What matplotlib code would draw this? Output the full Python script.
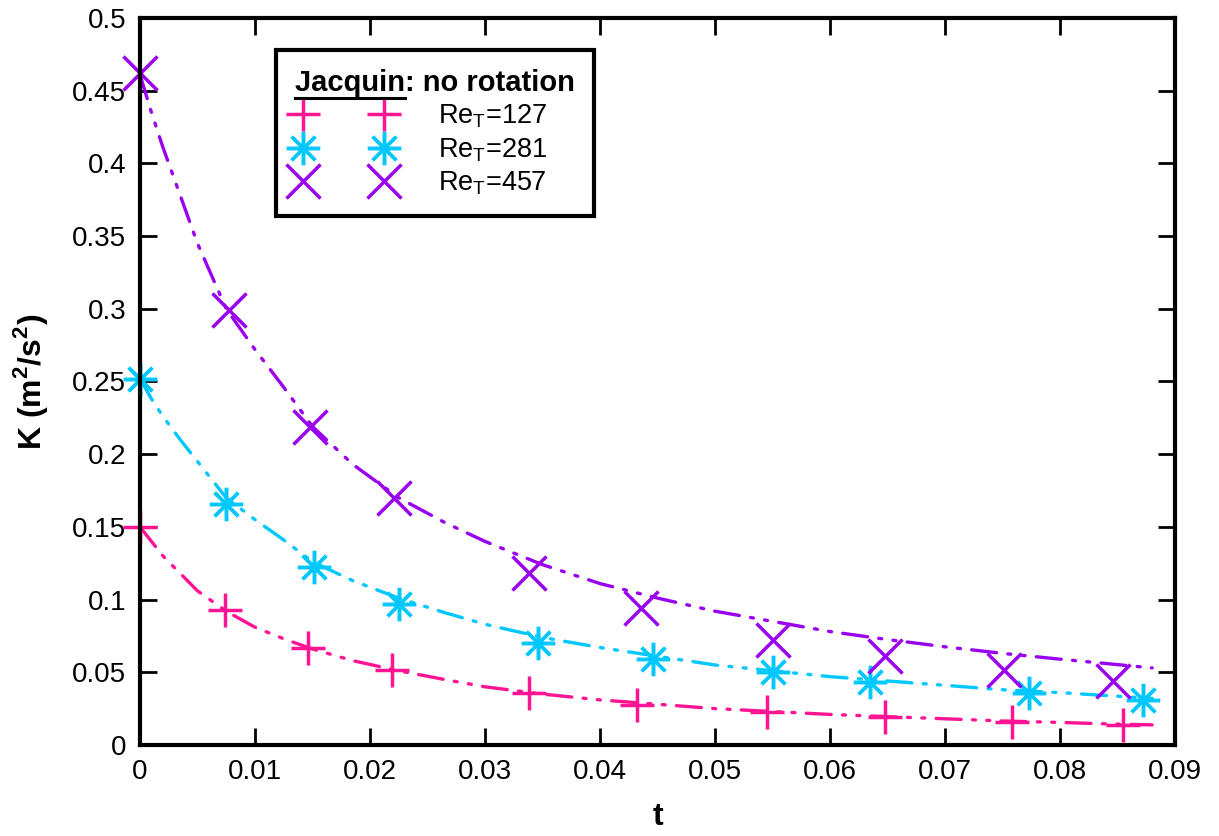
import matplotlib
matplotlib.use('Agg')
import matplotlib.pyplot as plt
from matplotlib.lines import Line2D
from matplotlib.transforms import IdentityTransform

plt.rcParams['font.family'] = ['Liberation Sans', 'DejaVu Sans']
plt.rcParams['mathtext.fontset'] = 'custom'
plt.rcParams['mathtext.rm'] = 'Liberation Sans'
plt.rcParams['mathtext.bf'] = 'Liberation Sans:bold'

t_127 = [0, 0.0074, 0.0146, 0.0219, 0.0338, 0.0432, 0.0545, 0.0648, 0.0758, 0.0855]
k_127 = [0.150, 0.093, 0.0665, 0.0516, 0.0357, 0.0275, 0.0227, 0.0193, 0.0158, 0.0138]

t_281 = [0, 0.0075, 0.0151, 0.0225, 0.0346, 0.0446, 0.0550, 0.0635, 0.0773, 0.0872]
k_281 = [0.252, 0.166, 0.1226, 0.097, 0.0704, 0.0589, 0.0504, 0.0436, 0.036, 0.031]

t_457 = [0, 0.0077, 0.0148, 0.0221, 0.0338, 0.0436, 0.0550, 0.0648, 0.0751, 0.0846]
k_457 = [0.462, 0.299, 0.219, 0.1697, 0.1185, 0.094, 0.0722, 0.0614, 0.0516, 0.0442]

# model curves
line_t = [0, 0.001, 0.002, 0.0035, 0.005, 0.0075, 0.01, 0.0125, 0.015, 0.0185,
          0.0225, 0.0265, 0.03, 0.035, 0.04, 0.045, 0.05, 0.055, 0.06, 0.065,
          0.07, 0.075, 0.08, 0.084, 0.088]
line_127 = [0.150, 0.140, 0.130, 0.118, 0.106, 0.092, 0.081, 0.073, 0.066, 0.058,
            0.051, 0.045, 0.040, 0.035, 0.031, 0.028, 0.025, 0.023, 0.021, 0.0195,
            0.018, 0.0165, 0.0155, 0.0145, 0.0138]
line_281 = [0.252, 0.238, 0.226, 0.210, 0.195, 0.170, 0.155, 0.141, 0.126, 0.113,
            0.101, 0.091, 0.083, 0.074, 0.067, 0.061, 0.055, 0.051, 0.047, 0.044,
            0.041, 0.038, 0.036, 0.034, 0.032]
line_457 = [0.461, 0.435, 0.411, 0.378, 0.345, 0.300, 0.272, 0.246, 0.219, 0.193,
            0.170, 0.153, 0.140, 0.124, 0.111, 0.101, 0.092, 0.085, 0.078, 0.0725,
            0.0675, 0.063, 0.059, 0.056, 0.053]

labels = ['Re$_\\mathrm{T}$=127', 'Re$_\\mathrm{T}$=281', 'Re$_\\mathrm{T}$=457']
colors = ['#ff1493', '#00c8ff', '#9a00f0']
markers = ['+', (8, 2, 0), 'x']

fig = plt.figure(figsize=(12.19, 8.36), dpi=100)
ax = fig.add_axes([0.1148, 0.1089, 0.8492, 0.8696])

dash = (0, (7.5, 3.4, 0.9, 3.4, 0.9, 3.4))
series = [(t_127, k_127, line_127), (t_281, k_281, line_281), (t_457, k_457, line_457)]
handles = []
for (tp, kp, kl), lab, c, m in zip(series, labels, colors, markers):
    ax.plot(line_t, kl, color=c, lw=2.4, linestyle=dash, dash_capstyle='round')
    h, = ax.plot(tp, kp, linestyle='none', marker=m, markersize=24, markeredgewidth=2.5,
                 color=c, clip_on=False, label=lab)
    handles.append(h)

ax.set_xlim(0, 0.09)
ax.set_ylim(0, 0.5)
ax.set_xticks([0, 0.01, 0.02, 0.03, 0.04, 0.05, 0.06, 0.07, 0.08, 0.09])
ax.set_xticklabels(['0', '0.01', '0.02', '0.03', '0.04', '0.05', '0.06', '0.07', '0.08', '0.09'])
ax.set_yticks([0, 0.05, 0.1, 0.15, 0.2, 0.25, 0.3, 0.35, 0.4, 0.45, 0.5])
ax.set_yticklabels(['0', '0.05', '0.1', '0.15', '0.2', '0.25', '0.3', '0.35', '0.4', '0.45', '0.5'])
ax.tick_params(direction='in', length=12, width=2, labelsize=20, pad=10,
               top=True, right=True)
for s in ax.spines.values():
    s.set_linewidth(3)

ax.set_xlabel('t', fontsize=23, fontweight='bold', labelpad=12)
ax.set_ylabel('K (m$^\\mathbf{2}$/s$^\\mathbf{2}$)', fontsize=23, fontweight='bold', labelpad=16)

leg = ax.legend(handles=handles, loc='upper left', bbox_to_anchor=(0.1314, 0.956),
                borderaxespad=0, numpoints=2, handlelength=3.6, handletextpad=1.7,
                labelspacing=0.22, fontsize=19.5, title='Jacquin: no rotation',
                title_fontproperties={'weight': 'bold', 'size': 21}, alignment='left',
                fancybox=False, framealpha=1, edgecolor='black', borderpad=0.7)
leg.get_frame().set_linewidth(3)

# underline "Jacquin" in the legend title
fig.canvas.draw()
r = fig.canvas.get_renderer()
title = leg.get_title()
tb = title.get_window_extent(r)
tmp = fig.text(0, 0, 'Jacquin', fontsize=21, fontweight='bold')
wb = tmp.get_window_extent(r)
tmp.remove()
fig.add_artist(Line2D([tb.x0, tb.x0 + wb.width], [tb.y0 - 1, tb.y0 - 1],
                      transform=IdentityTransform(), color='black', lw=2.2))

fig.savefig('out.png', dpi=100)
